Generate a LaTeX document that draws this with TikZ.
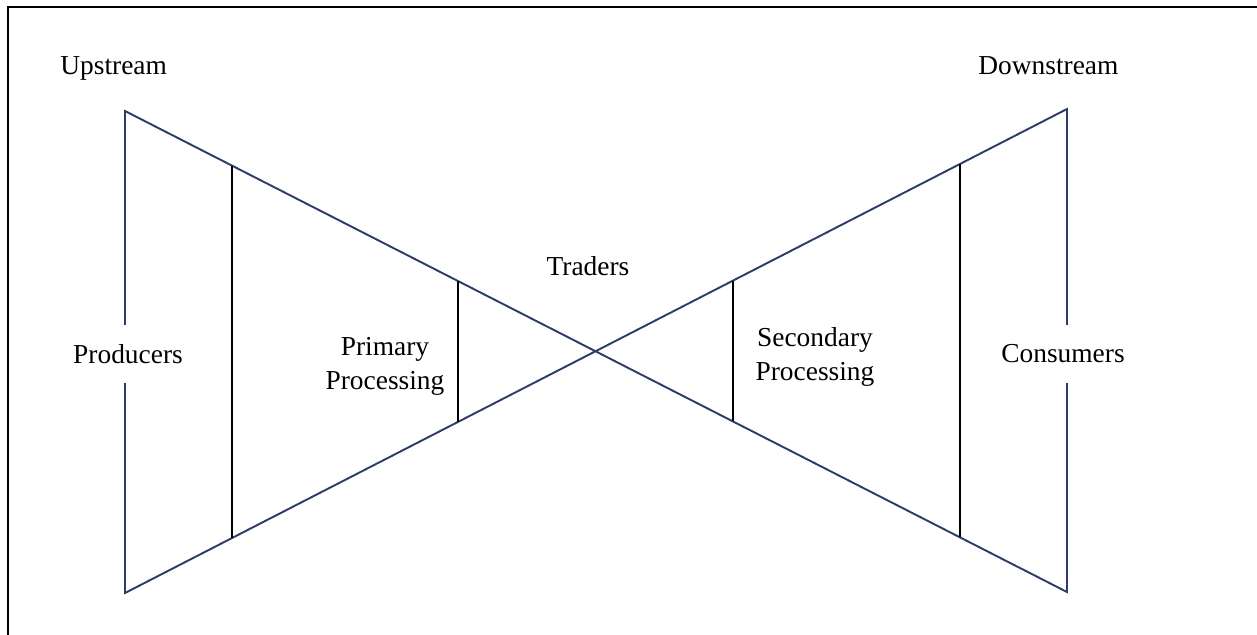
\documentclass[tikz,border=0pt]{standalone}
\usepackage{fontspec}
\setmainfont{Liberation Serif}
\usepackage{tikz}
\usetikzlibrary{calc}
\definecolor{bowblue}{RGB}{44,62,104}

\begin{document}
\begin{tikzpicture}[x=0.02cm,y=-0.02cm,
  bow/.style={draw=bowblue,line width=1.1pt,line join=miter},
  cut/.style={draw=black,line width=1.1pt},
  lbl/.style={font=\fontsize{15.6}{19.3}\selectfont,inner sep=0pt,align=center}]
\useasboundingbox (0,0) rectangle (1257,635);
\draw[line width=1.3pt] (8,635)--(8,7)--(1257,7);
% corners of the bow tie
\coordinate (ul) at (125,111);
\coordinate (ll) at (125,593);
\coordinate (ur) at (1067,109);
\coordinate (lr) at (1067,592);
\draw[bow] (ul)--(lr)--(ur)--(ll)--cycle;
% stage boundaries
\draw[cut] ($(ul)!0.1136!(lr)$)--($(ll)!0.1136!(ur)$);
\draw[cut] ($(ul)!0.3535!(lr)$)--($(ll)!0.3535!(ur)$);
\draw[cut] ($(ul)!0.6454!(lr)$)--($(ll)!0.6454!(ur)$);
\draw[cut] ($(ul)!0.8864!(lr)$)--($(ll)!0.8864!(ur)$);
% labels
\node[lbl,anchor=base west] (up) at (60,75) {Upstream};
\node[lbl,anchor=base west] (down) at (978,75) {Downstream};
\node[lbl,anchor=base] (trad) at (588,275) {Traders};
\node[lbl,fill=white,minimum width=2.4cm,minimum height=1.18cm] (prod) at (128,354) {Producers};
\node[lbl,fill=white,minimum width=2.7cm,minimum height=1.18cm] (cons) at (1063,354) {Consumers};
\node[lbl] (prim) at (385,366) {Primary\\Processing};
\node[lbl] (sec) at (815,357) {Secondary\\Processing};
\end{tikzpicture}
\end{document}
